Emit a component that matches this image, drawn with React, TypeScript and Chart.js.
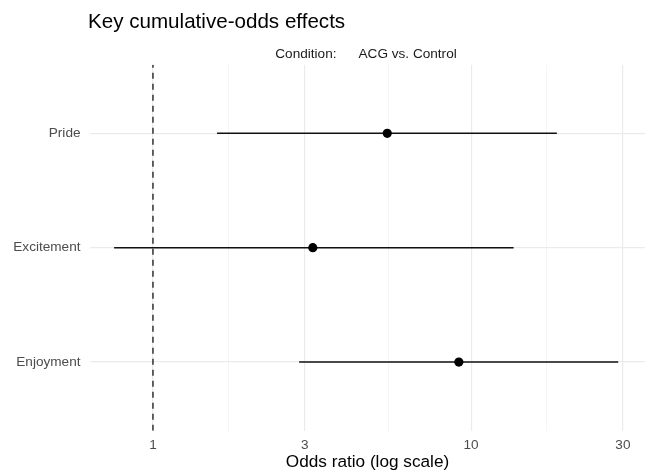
import React, { useEffect, useRef } from "react";
import { Chart, registerables } from "chart.js";

Chart.register(...registerables);

// Data (top-to-bottom order as displayed)
const categories = ["Pride", "Excitement", "Enjoyment"];
const estimates = [5.45, 3.18, 9.15];
const lowerCI = [1.59, 0.755, 2.88];
const upperCI = [18.6, 13.6, 29.0];

const majorTicks = [1, 3, 10, 30];
const minorTicks = [1.73, 5.48, 17.3];
const referenceValue = 1;

const titleText = "Key cumulative-odds effects";
const stripLabel = "Condition:";
const stripValue = "ACG vs. Control";
const xAxisTitle = "Odds ratio (log scale)";

const FONT = "'Liberation Sans', Arial, Helvetica, sans-serif";

const X_MIN = 0.634;
const X_MAX = 35.2;

export default function App() {
  const canvasRef = useRef<HTMLCanvasElement | null>(null);

  useEffect(() => {
    const canvas = canvasRef.current;
    if (!canvas) return;
    const n = categories.length;
    const yOf = (i: number) => n - i;

    const pointData = categories.map((_, i) => ({ x: estimates[i], y: yOf(i) }));
    const ciDatasets = categories.map((c, i) => ({
      label: c + " CI",
      type: "scatter" as const,
      data: [
        { x: lowerCI[i], y: yOf(i) },
        { x: upperCI[i], y: yOf(i) },
      ],
      showLine: true,
      borderColor: "#111111",
      borderWidth: 1.5,
      pointRadius: 0,
      pointHoverRadius: 0,
      order: 1,
    }));

    const textPlugin = {
      id: "textPlugin",
      afterDraw(chart: any) {
        const ctx = chart.ctx as CanvasRenderingContext2D;
        const area = chart.chartArea;
        ctx.save();
        ctx.textBaseline = "alphabetic";
        ctx.textAlign = "left";
        ctx.fillStyle = "#000000";
        ctx.font = `20.6px ${FONT}`;
        ctx.fillText(titleText, 88, 28);

        ctx.font = `13.6px ${FONT}`;
        ctx.fillStyle = "#1a1a1a";
        const w1 = ctx.measureText(stripLabel).width;
        const w2 = ctx.measureText(stripValue).width;
        const gap = 22;
        const total = w1 + gap + w2;
        const cx = (area.left + area.right) / 2;
        const start = cx - total / 2 - 1.5;
        ctx.fillText(stripLabel, start, 57.5);
        ctx.fillText(stripValue, start + w1 + gap, 57.5);
        ctx.restore();
      },
    };

    const chart = new Chart(canvas, {
      type: "scatter",
      data: {
        datasets: [
          {
            label: "Estimate",
            data: pointData,
            backgroundColor: "#000000",
            borderColor: "#000000",
            pointRadius: 4.6,
            pointHoverRadius: 4.6,
            pointBorderWidth: 0,
            order: 0,
          },
          ...ciDatasets,
          {
            label: "Reference",
            data: [
              { x: referenceValue, y: 0.4 },
              { x: referenceValue, y: n + 0.6 },
            ],
            showLine: true,
            borderColor: "#000000",
            borderWidth: 1.2,
            borderDash: [6, 5],
            pointRadius: 0,
            pointHoverRadius: 0,
            order: 2,
          },
        ] as any,
      },
      options: {
        animation: false,
        responsive: false,
        maintainAspectRatio: false,
        layout: { autoPadding: false, padding: { top: 64.7, left: 0, right: 0, bottom: 0 } },
        plugins: {
          legend: { display: false },
          tooltip: { enabled: false },
          title: { display: false },
        },
        scales: {
          x: {
            type: "logarithmic",
            min: X_MIN,
            max: X_MAX,
            bounds: "data",
            position: "bottom",
            border: { display: false },
            afterBuildTicks: (scale: any) => {
              const all = [...majorTicks, ...minorTicks].sort((a, b) => a - b);
              scale.ticks = all.map((v) => ({ value: v, major: majorTicks.includes(v) }));
              scale.min = X_MIN;
              scale.max = X_MAX;
            },
            afterFit: (scale: any) => {
              scale.height = 40.3;
            },
            grid: {
              drawTicks: false,
              color: (ctx: any) =>
                majorTicks.includes(ctx.tick?.value) ? "#ebebeb" : "#f3f3f3",
              lineWidth: (ctx: any) => (majorTicks.includes(ctx.tick?.value) ? 1.2 : 0.8),
            },
            ticks: {
              autoSkip: false,
              maxRotation: 0,
              padding: 6.5,
              color: "#4d4d4d",
              font: { family: FONT, size: 13.6 },
              callback: (v: any) => (majorTicks.includes(Number(v)) ? String(v) : ""),
            },
            title: {
              display: true,
              text: xAxisTitle,
              color: "#000000",
              font: { family: FONT, size: 17.2, lineHeight: 1.0 },
              padding: { top: 0, bottom: 0 },
            },
          },
          y: {
            type: "linear",
            min: 0.4,
            max: n + 0.6,
            border: { display: false },
            afterBuildTicks: (scale: any) => {
              scale.ticks = categories.map((_, i) => ({ value: yOf(i) }));
            },
            afterFit: (scale: any) => {
              scale.width = 90;
            },
            grid: {
              drawTicks: false,
              color: "#ebebeb",
              lineWidth: 1.2,
            },
            ticks: {
              autoSkip: false,
              padding: 9.5,
              color: "#4d4d4d",
              font: { family: FONT, size: 13.6 },
              callback: (v: any) => {
                const idx = n - Number(v);
                return categories[idx] ?? "";
              },
            },
          },
        },
      },
      plugins: [textPlugin],
    } as any);

    return () => chart.destroy();
  }, []);

  return (
    <div style={{ position: "absolute", left: 0, top: 0, width: 645, height: 471, background: "#ffffff" }}>
      <canvas ref={canvasRef} width={645} height={471} style={{ display: "block", width: 645, height: 471 }} />
    </div>
  );
}
